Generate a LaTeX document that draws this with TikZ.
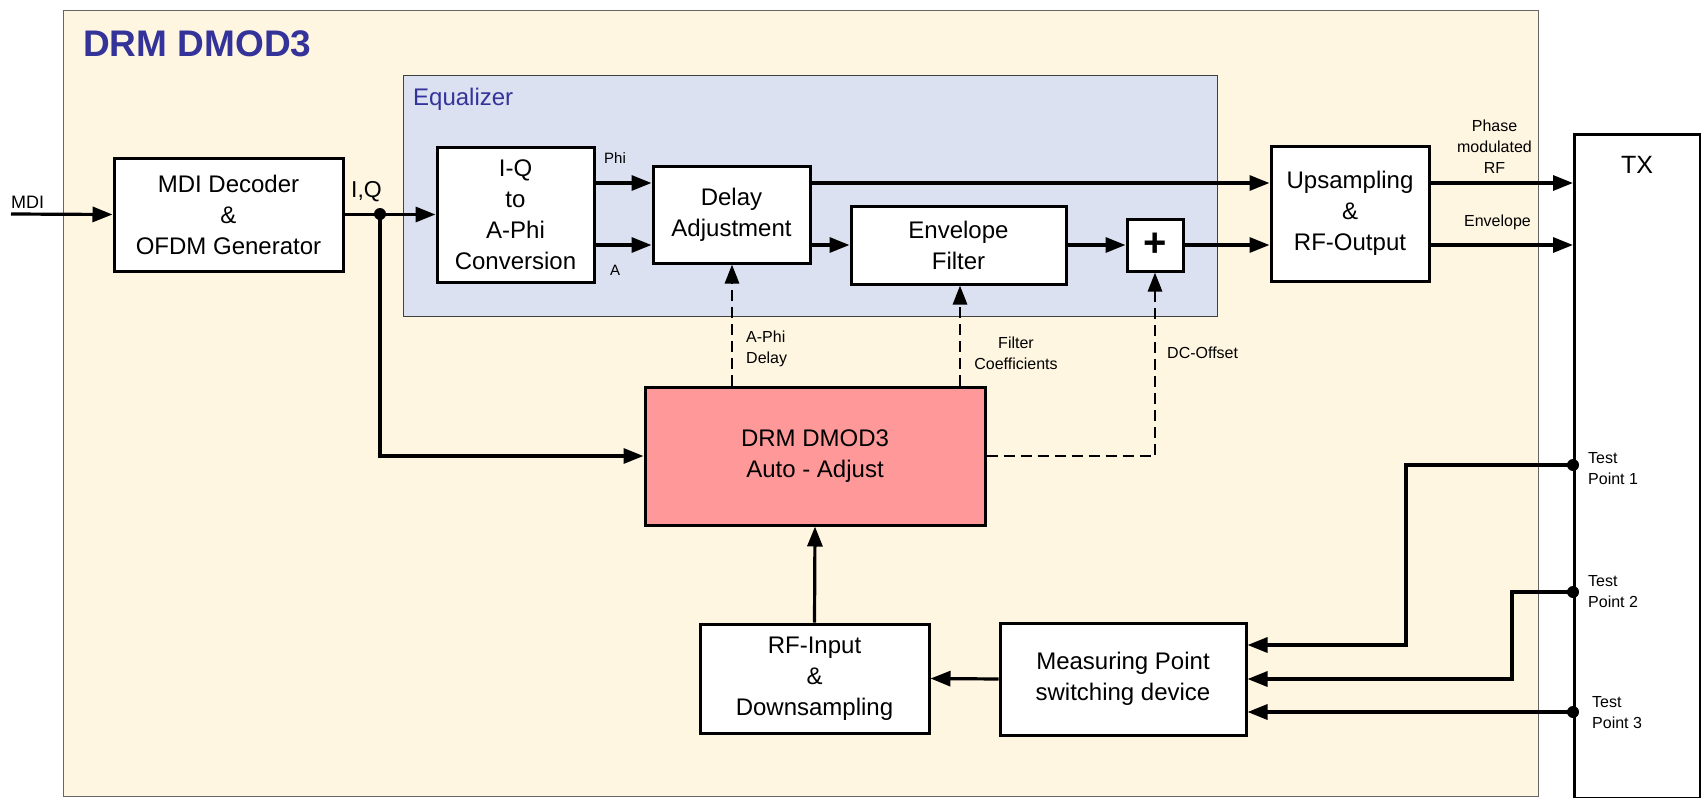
\documentclass[tikz,border=0pt]{standalone}
\usepackage{fontspec}
\setmainfont{Liberation Sans}
\usetikzlibrary{arrows.meta}
\definecolor{cream}{RGB}{255,246,225}
\definecolor{eqblue}{RGB}{219,225,241}
\definecolor{autored}{RGB}{255,153,153}
\definecolor{titleblue}{RGB}{51,51,153}
\begin{document}
\begin{tikzpicture}[x=1pt,y=-1pt,
  box/.style={draw=black, line width=3pt, fill=white, align=center, font=\fontsize{24}{31}\selectfont, inner sep=0pt},
  conn/.style={line width=3.2pt, -{Triangle[length=20pt,width=15pt]}},
  dconn/.style={line width=2.9pt, -{Triangle[length=19pt,width=14pt]}, dash pattern=on 11pt off 6pt},
  lbl/.style={font=\fontsize{16}{21}\selectfont, inner sep=0pt},
  dot/.style={circle, fill=black, minimum size=12pt, inner sep=0pt}
]
\useasboundingbox (0,0) rectangle (1701,798);
% containers
\node[draw=black!60, line width=1.3pt, fill=cream, minimum width=1475pt, minimum height=786pt, anchor=north west, inner sep=0pt] (outer) at (63,10) {};
\node[draw=black!75, line width=1.3pt, fill=eqblue, minimum width=814pt, minimum height=241pt, anchor=north west, inner sep=0pt] (eq) at (403,75) {};
\node[anchor=base west, inner sep=0pt, font=\bfseries\fontsize{37}{44}\selectfont, text=titleblue] (title) at (83,56) {DRM DMOD3};
\node[anchor=base west, inner sep=0pt, font=\fontsize{24}{30}\selectfont, text=titleblue] (eqlabel) at (413,105) {Equalizer};
% TX
\node[draw=black, line width=3pt, fill=white, minimum width=126pt, minimum height=664pt, anchor=north west, inner sep=0pt] (tx) at (1573,133) {};
\node[anchor=base, inner sep=0pt, font=\fontsize{25}{30}\selectfont] (txlabel) at (1637,173) {TX};
% blocks
\node[box, minimum width=229pt, minimum height=113pt] (mdi) at (228.5,214.5) {MDI Decoder\\\&\\OFDM Generator};
\node[box, minimum width=157pt, minimum height=135pt] (iq) at (515.5,214.5) {I-Q\\to\\A-Phi\\Conversion};
\node[box, minimum width=157pt, minimum height=97pt] (delay) at (731.5,214.5) {Delay\\Adjustment};
\node[box, minimum width=215pt, minimum height=78pt] (env) at (958.5,245) {Envelope\\Filter};
\node[box, minimum width=56pt, minimum height=52pt, font=\bfseries\fontsize{40}{40}\selectfont] (plus) at (1155,245) {+};
\node[box, minimum width=158pt, minimum height=135pt] (ups) at (1350,213.5) {Upsampling\\\&\\RF-Output};
\node[box, fill=autored, minimum width=340pt, minimum height=138pt] (auto) at (815,456) {DRM DMOD3\\Auto - Adjust};
\node[box, minimum width=229pt, minimum height=109pt] (rf) at (814.5,678.5) {RF-Input\\\&\\Downsampling};
\node[box, minimum width=246pt, minimum height=112pt] (meas) at (1123,679) {Measuring Point\\switching device};
% dots
\node[dot] (split) at (380,214) {};
\node[dot] (tp1) at (1573,465) {};
\node[dot] (tp2) at (1573,592) {};
\node[dot] (tp3) at (1573,712) {};
\coordinate (mdiin) at (11,214);
% connectors
\draw[conn] (mdiin) -- (mdi.west);
\draw[conn] (mdi.east) -- (iq.west);
\draw[conn] (split.center) |- (auto.west);
\draw[conn] (iq.east |- 0,183) -- (delay.west |- 0,183);
\draw[conn] (iq.east |- 0,245) -- (delay.west |- 0,245);
\draw[conn] (delay.east |- 0,183) -- (ups.west |- 0,183);
\draw[conn] (delay.east |- 0,245) -- (env.west);
\draw[conn] (env.east) -- (plus.west);
\draw[conn] (plus.east) -- (ups.west |- 0,245);
\draw[conn] (ups.east |- 0,183) -- (tx.west |- 0,183);
\draw[conn] (ups.east |- 0,245) -- (tx.west |- 0,245);
\draw[dconn] (auto.north -| 732,0) -- (delay.south -| 732,0);
\draw[dconn] (auto.north -| 960,0) -- (env.south -| 960,0);
\draw[dconn] (auto.east) -| (plus.south);
\draw[conn] (rf.north) -- (auto.south);
\draw[conn] (meas.west) -- (rf.east);
\draw[conn] (tp1.center) -- (1406,465) -- (1406,645) -- (meas.east |- 0,645);
\draw[conn] (tp2.center) -- (1512,592) -- (1512,679) -- (meas.east |- 0,679);
\draw[conn] (tp3.center) -- (meas.east |- 0,712);
% labels
\node[anchor=base west, inner sep=0pt, font=\fontsize{18}{20}\selectfont] (mdilbl) at (11,208) {MDI};
\node[anchor=base west, inner sep=0pt, font=\fontsize{23}{26}\selectfont] (iqlbl) at (351,197) {I,Q};
\node[lbl, anchor=base west, font=\fontsize{15}{18}\selectfont] (philbl) at (604,163) {Phi};
\node[lbl, anchor=base west, font=\fontsize{15}{18}\selectfont] (albl) at (610,275) {A};
\node[lbl, anchor=base, align=center] (pmlbl) at (1494.5,173) {Phase\\modulated\\RF};
\node[lbl, anchor=base] (envlbl) at (1497.5,226) {Envelope};
\node[lbl, anchor=base west, align=left] (aphilbl) at (746,363) {A-Phi\\Delay};
\node[lbl, anchor=base, align=center] (filtlbl) at (1016,369) {Filter\\Coefficients};
\node[lbl, anchor=base west] (dclbl) at (1167,358) {DC-Offset};
\node[lbl, anchor=base west, align=left] (tp1lbl) at (1588,484) {Test\\Point 1};
\node[lbl, anchor=base west, align=left] (tp2lbl) at (1588,607) {Test\\Point 2};
\node[lbl, anchor=base west, align=left] (tp3lbl) at (1592,728) {Test\\Point 3};
\end{tikzpicture}
\end{document}
